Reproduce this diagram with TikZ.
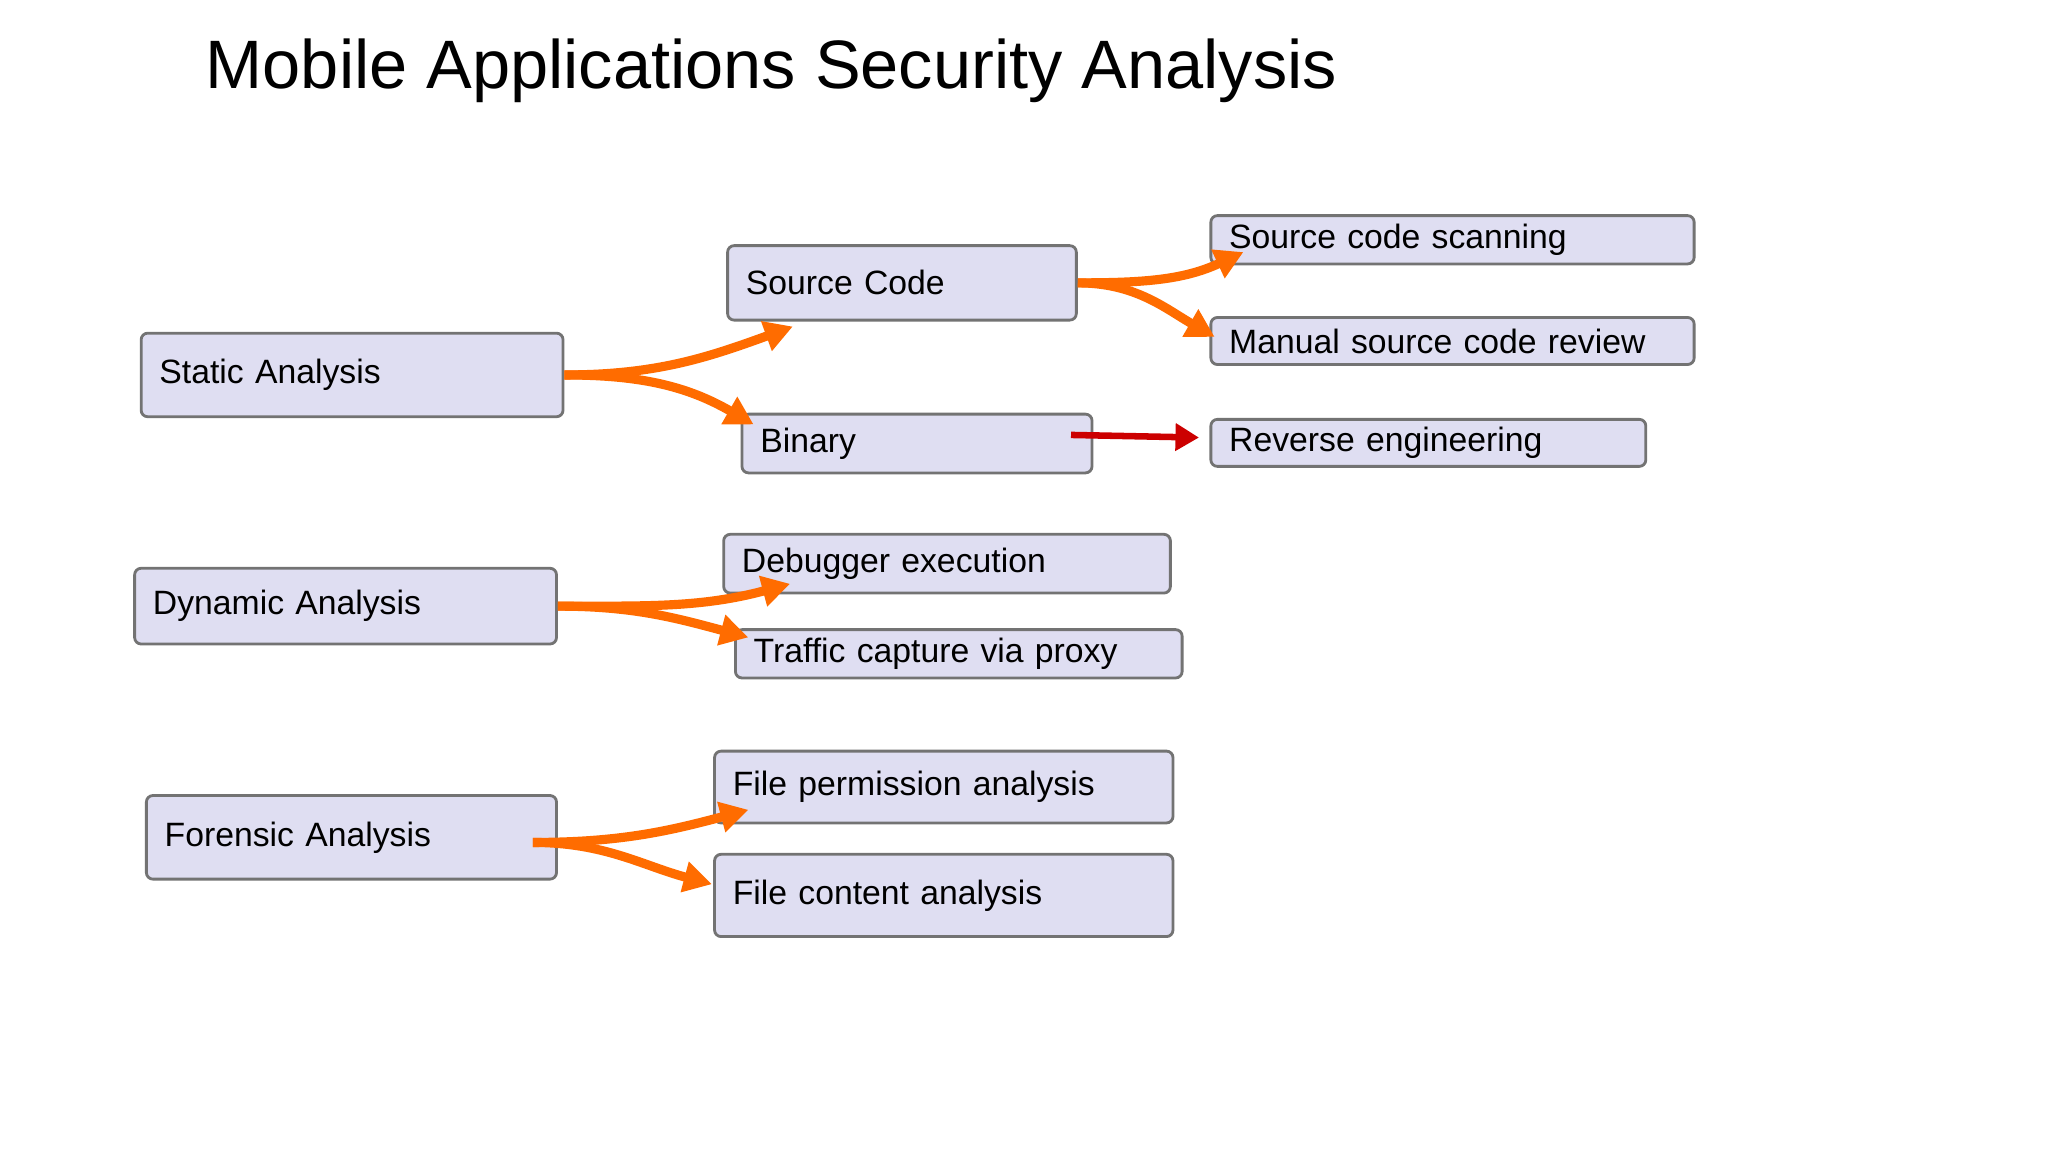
\documentclass[tikz,border=0pt]{standalone}
\usepackage{fontspec}
\setmainfont{Liberation Sans}
\usetikzlibrary{arrows.meta}
\newlength\pxu \setlength\pxu{0.01306cm}
\begin{document}
\begin{tikzpicture}[x=\pxu,y=-\pxu,
 box/.style={draw=black!55,fill=cyan!20!blue!12,rounded corners=5\pxu,line width=0.8pt,anchor=north west,inner xsep=14\pxu,inner ysep=0pt,font=\fontsize{9.6pt}{11pt}\selectfont,align=left},
 fat/.style={line width=7\pxu,draw=orange!85!red,-{Triangle[width=8.5pt,length=8pt]}},
 fatr/.style={line width=5\pxu,draw=red!80!black,-{Triangle[width=7.5pt,length=6.7pt]}}]
\useasboundingbox[fill=white] (0,0) rectangle (1568,882);
\node[anchor=west,font=\fontsize{19.5pt}{22pt}\selectfont] (title) at (148,54) {Mobile Applications Security Analysis};
\newcommand\bx[6]{\node[box,minimum width=#4\pxu,minimum height=#5\pxu,text width=#4\pxu-28\pxu] (#1) at (#2,#3) {#6};}
\bx{sa}{107}{254}{323}{64}{Static Analysis}
\bx{sc}{556}{187}{267}{57}{Source Code}
\bx{bin}{567}{316}{268}{45}{Binary}
\bx{scs}{926}{164}{370}{37}{Source code scanning}
\bx{msr}{926}{242}{370}{36}{Manual source code review}
\bx{re}{926}{320}{333}{36}{Reverse engineering}
\bx{da}{102}{434}{323}{58}{Dynamic Analysis}
\bx{de}{553}{408}{342}{45}{Debugger execution}
\bx{tc}{562}{481}{342}{37}{Traffic capture via proxy}
\bx{fa}{111}{608}{314}{64}{Forensic Analysis}
\bx{fp}{546}{574}{351}{55}{File permission analysis}
\bx{fc}{546}{653}{351}{63}{File content analysis}
\coordinate (t1) at (607,250); \coordinate (t2) at (577,325);
\coordinate (t3) at (952,193); \coordinate (t4) at (930,258);
\coordinate (t5) at (918,335);
\coordinate (t6) at (605,447); \coordinate (t7) at (573,488);
\coordinate (t8) at (573,620); \coordinate (t9) at (545,677);
\coordinate (s5) at (820,333); \coordinate (s8) at (408,645);
\draw[fat] (sa.east) to[out=0,in=200] (t1);
\draw[fat] (sa.east) to[out=0,in=150] (t2);
\draw[fat] (sc.east) to[out=0,in=205] (t3);
\draw[fat] (sc.east) to[out=0,in=150] (t4);
\draw[fatr] (s5) -- (t5);
\draw[fat] (da.east) to[out=0,in=195] (t6);
\draw[fat] (da.east) to[out=0,in=165] (t7);
\draw[fat] (s8) to[out=0,in=195] (t8);
\draw[fat] (s8) to[out=0,in=165] (t9);
\end{tikzpicture}
\end{document}
